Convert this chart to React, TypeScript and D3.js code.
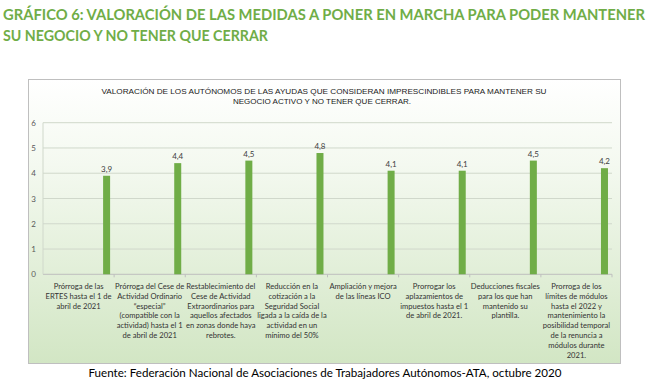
import React from "react";
import * as d3 from "d3";

// data
const labels: string[][] = [
  ["Prórroga de las", "ERTES hasta el 1 de", "abril de 2021"],
  ["Prórroga del Cese de", "Actividad Ordinario", "“especial”", "(compatible con la", "actividad) hasta el 1", "de abril de 2021"],
  ["Restablecimiento del", "Cese de Actividad", "Extraordinarios para", "aquellos afectados", "en zonas donde haya", "rebrotes."],
  ["Reducción en la", "cotización a la", "Seguridad Social", "ligada a la caída de la", "actividad en un", "mínimo del 50%"],
  ["Ampliación y mejora", "de las líneas ICO"],
  ["Prorrogar los", "aplazamientos de", "impuestos hasta el 1", "de abril de 2021."],
  ["Deducciones fiscales", "para los que han", "mantenido su", "plantilla."],
  ["Prorroga de los", "límites de módulos", "hasta el 2022 y", "mantenimiento la", "posibilidad temporal", "de la renuncia a", "módulos durante", "2021."],
];
const values = [3.9, 4.4, 4.5, 4.8, 4.1, 4.1, 4.5, 4.2];
const yTicks = [0, 1, 2, 3, 4, 5, 6];

const title1 = "GRÁFICO 6: VALORACIÓN DE LAS MEDIDAS A PONER EN MARCHA PARA PODER MANTENER";
const title2 = "SU NEGOCIO Y NO TENER QUE CERRAR";
const chartTitle1 = "VALORACIÓN DE LOS AUTÓNOMOS DE LAS AYUDAS QUE CONSIDERAN IMPRESCINDIBLES PARA MANTENER SU";
const chartTitle2 = "NEGOCIO ACTIVO Y NO TENER QUE CERRAR.";
const source = "Fuente: Federación Nacional de Asociaciones de Trabajadores Autónomos-ATA, octubre 2020";

const W = 650;
const H = 389;
const green = "#70AD47";
const calibri = "Lato, 'Open Sans', sans-serif";
const arial = "Arial, 'Liberation Sans', sans-serif";

export default function App() {
  const plot = { left: 43, right: 612, top: 122.7, bottom: 274.3 };

  const x = d3
    .scaleBand<number>()
    .domain(values.map((_, i) => i))
    .range([plot.left, plot.right]);
  const y = d3.scaleLinear().domain([0, 6]).range([plot.bottom, plot.top]);
  const bw = x.bandwidth();
  const barW = 7;
  const barOff = bw * 0.845; // bars sit at the right of each slot

  const fmt = (v: number) => v.toFixed(1).replace(".", ",");

  return (
    <svg width={W} height={H} style={{ position: "absolute", left: 0, top: 0 }}>
      <defs>
        <linearGradient id="bg" x1="0" y1="0" x2="0" y2="1">
          <stop offset="0" stopColor="#ffffff" />
          <stop offset="0.3" stopColor="#f4f9f0" />
          <stop offset="1" stopColor="#d2e6c4" />
        </linearGradient>
      </defs>
      <rect width={W} height={H} fill="#fff" />

      {/* page title */}
      <text x={3} y={20} fontFamily={calibri} fontWeight="bold" fontSize={14.5} fill={green}
        textLength={642} lengthAdjust="spacingAndGlyphs">
        {title1}
      </text>
      <text x={3} y={41} fontFamily={calibri} fontWeight="bold" fontSize={14.5} fill={green}
        textLength={265} lengthAdjust="spacingAndGlyphs">
        {title2}
      </text>

      {/* chart box */}
      <rect x={28.5} y={79.5} width={592} height={284} fill="url(#bg)" stroke="#bfbfbf" />

      <text x={324} y={93.5} textAnchor="middle" fontFamily={arial}
        fontSize={7.4} fill="#1a1a1a" textLength={445} lengthAdjust="spacingAndGlyphs">
        {chartTitle1}
      </text>
      <text x={322} y={103.5} textAnchor="middle" fontFamily={arial}
        fontSize={7.4} fill="#1a1a1a" textLength={178} lengthAdjust="spacingAndGlyphs">
        {chartTitle2}
      </text>

      {/* gridlines */}
      {yTicks.map((t) => (
        <g key={t}>
          <line x1={plot.left} x2={plot.right} y1={y(t)} y2={y(t)}
            stroke={t === 0 ? "#bfbfbf" : "#d0d8cb"} strokeWidth={1} />
          <text x={36} y={y(t) + 3} textAnchor="end" fontFamily={calibri} fontSize={8} fill="#595959">
            {t}
          </text>
        </g>
      ))}
      <line x1={plot.left} x2={plot.left} y1={plot.top} y2={plot.bottom} stroke="#d0d8cb" />

      {/* category ticks */}
      {values.map((_, i) => (
        <line key={i} x1={(x(i) as number) + bw} x2={(x(i) as number) + bw}
          y1={plot.bottom} y2={plot.bottom + 3} stroke="#bfbfbf" />
      ))}

      {/* bars */}
      {values.map((v, i) => {
        const bx = (x(i) as number) + barOff;
        return (
          <g key={i}>
            <rect x={bx} y={y(v)} width={barW} height={plot.bottom - y(v)} fill={green} />
            <text x={bx + barW / 2} y={y(v) - 4} textAnchor="middle" fontFamily={calibri}
              fontSize={8} fill="#404040">
              {fmt(v)}
            </text>
          </g>
        );
      })}

      {/* category labels */}
      {labels.map((lines, i) => (
        <text key={i} textAnchor="middle" fontFamily={calibri} fontSize={7.6} fill="#333">
          {lines.map((ln, j) => (
            <tspan key={j} x={(x(i) as number) + bw / 2} y={289 + j * 9.8}>
              {ln}
            </tspan>
          ))}
        </text>
      ))}

      {/* source */}
      <text x={325} y={377} textAnchor="middle" fontFamily={calibri} fontSize={11} fill="#000"
        textLength={473} lengthAdjust="spacingAndGlyphs">
        {source}
      </text>
    </svg>
  );
}
